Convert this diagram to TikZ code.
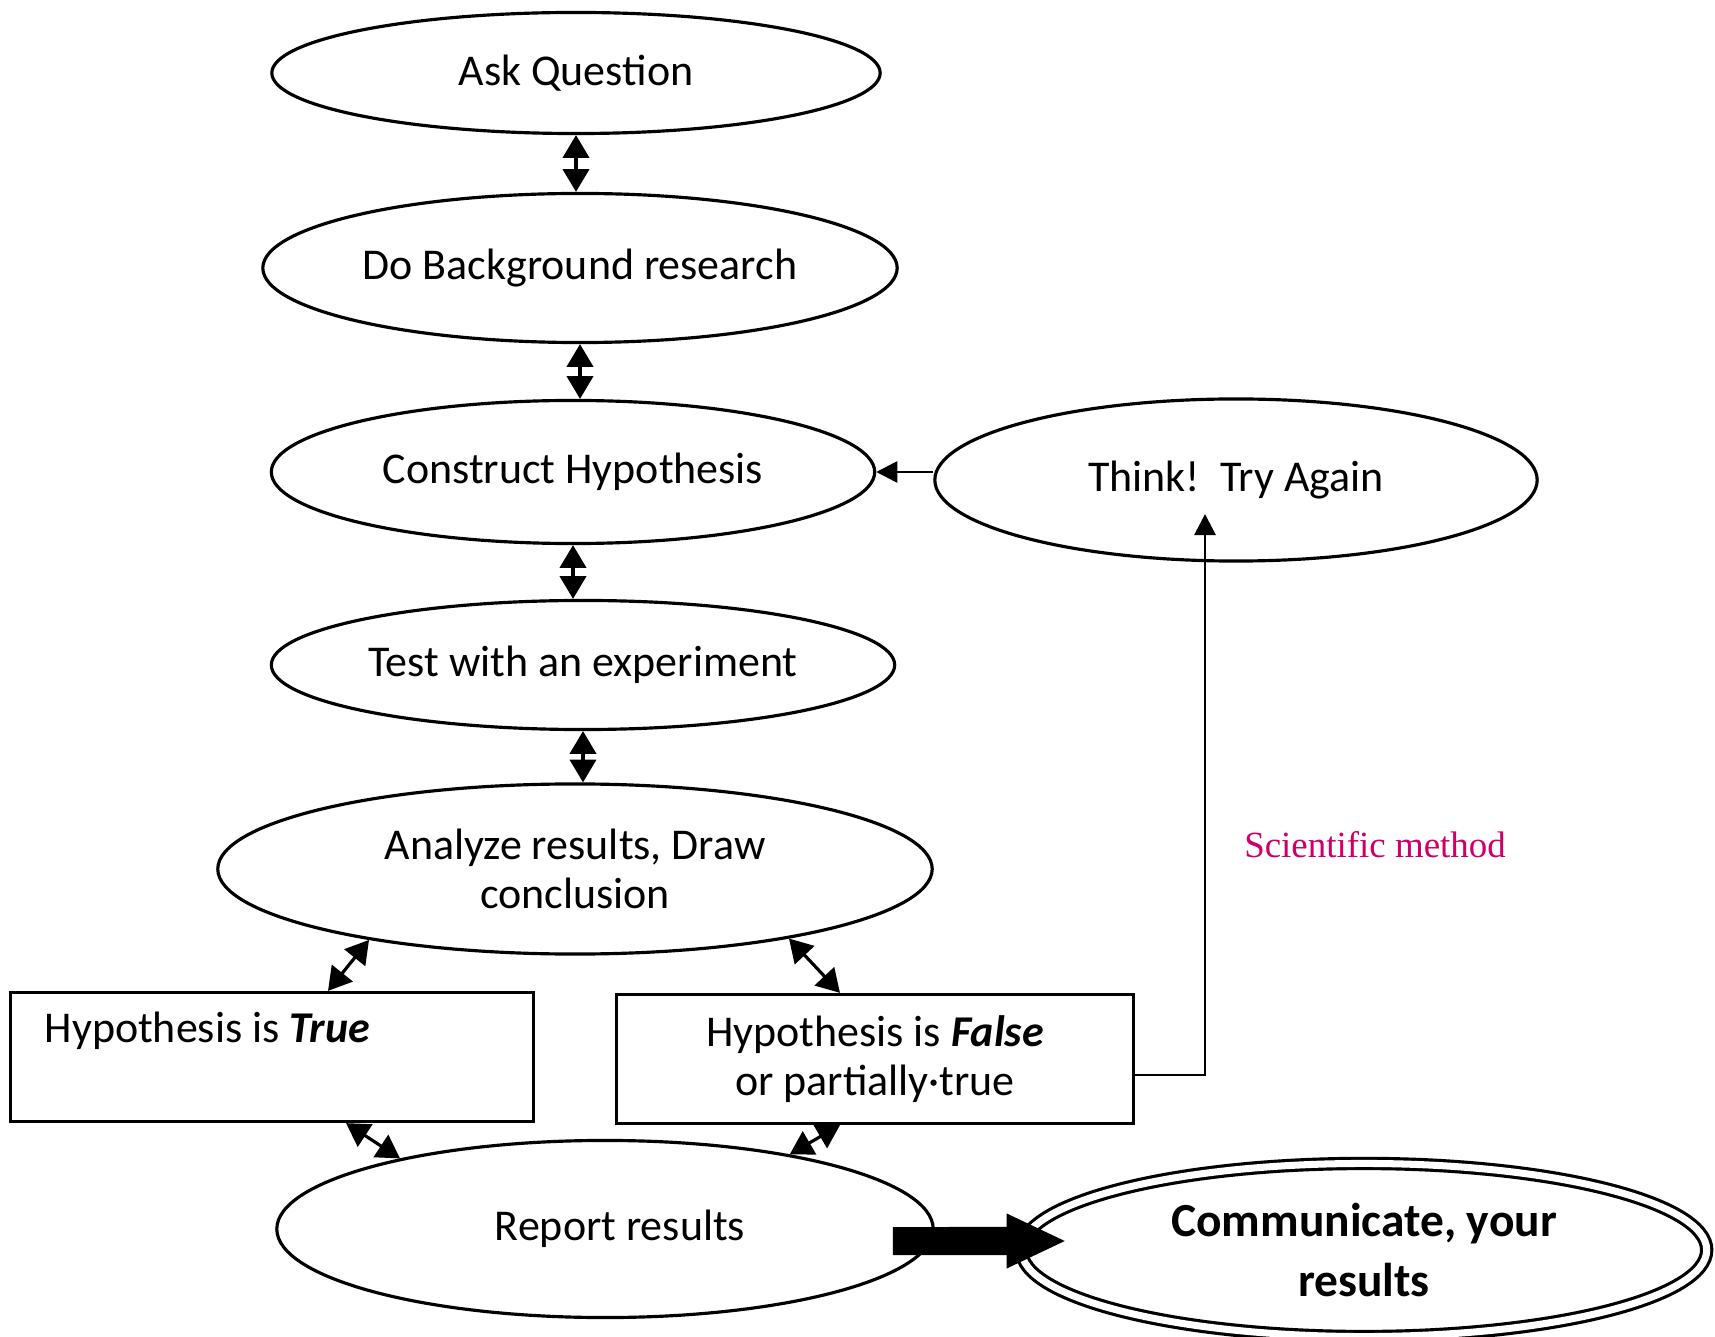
\documentclass[tikz,border=0pt]{standalone}
\usepackage{fontspec}
\setmainfont{Carlito}
\newfontfamily\serifname{Liberation Serif}
\usetikzlibrary{positioning,arrows.meta,shapes.geometric}

\definecolor{sciPink}{RGB}{204,0,102}

\tikzset{
  oval/.style={draw, ellipse, line width=0.9pt, inner sep=0pt, align=center,
    font=\fontsize{12.5}{14}\selectfont},
  box/.style={draw, rectangle, line width=0.9pt, inner sep=0pt, align=center,
    font=\fontsize{12.5}{14}\selectfont},
  dbl/.style={{Triangle[width=7.5pt,length=6.5pt]}-{Triangle[width=7.5pt,length=6.5pt]}, line width=0.9pt},
  sgl/.style={-{Triangle[width=6pt,length=6pt]}, line width=0.8pt},
  fat/.style={-{Triangle[width=0.5cm,length=0.6cm]}, line width=0.28cm},
}

\begin{document}
\begin{tikzpicture}[x=0.01cm, y=-0.01cm]
\useasboundingbox (0,0) rectangle (1715,1337);

%% 楕円
\node[oval, minimum width=6.08cm, minimum height=1.21cm] (ask) at (576,73) {Ask Question};
\node[oval, minimum width=6.34cm, minimum height=1.49cm] (bg) at (580,268) {Do Background research};
\node[oval, minimum width=6.03cm, minimum height=1.43cm] (hyp) at (573,472) {Construct Hypothesis};
\node[oval, minimum width=6.02cm, minimum height=1.62cm] (again) at (1236,480) {Think!\ \ Try Again};
\node[oval, minimum width=6.23cm, minimum height=1.29cm] (test) at (583,665) {Test with an experiment};
\node[oval, minimum width=7.14cm, minimum height=1.70cm] (analyze) at (575,869) {Analyze results, Draw\\conclusion};
\node[oval, minimum width=6.56cm, minimum height=1.77cm] (report) at (605,1229) {\hspace*{0.3cm}Report results};
\node[oval, double, double distance=2pt, minimum width=6.85cm, minimum height=1.73cm,
  font=\bfseries\fontsize{13.5}{17}\selectfont] (comm) at (1364,1250) {Communicate, your\\results};

%% 箱
\node[box, minimum width=5.22cm, minimum height=1.29cm] (true) at (272,1057) {};
\node[anchor=west, inner sep=0pt, font=\fontsize{12.5}{14}\selectfont] (truetxt) at (44,1031) {Hypothesis is \textbf{\textit{True}}};
\node[box, minimum width=5.17cm, minimum height=1.29cm] (false) at (875,1059) {Hypothesis is \textbf{\textit{False}}\\or partially·true};

%% 題
\node[font=\serifname\fontsize{10.5}{12}\selectfont, text=sciPink] (title) at (1375,845) {Scientific method};

%% 矢印
\draw[dbl] (ask.south) -- (ask.south |- bg.north);
\draw[dbl] (bg.south) -- (bg.south |- hyp.north);
\draw[dbl] (hyp.south) -- (hyp.south |- test.north);
\draw[dbl] (test.south) -- (test.south |- analyze.north);

\draw[dbl] (analyze.199) -- ([xshift=0.56cm]true.north);
\draw[dbl] (analyze.342) -- ([xshift=-0.35cm]false.north);
\draw[dbl] ([xshift=0.74cm]true.south) -- (report.161);
\draw[dbl] ([xshift=-0.35cm]false.south) -- (report.22);

\draw[sgl] (hyp.east -| again.west) -- (hyp.east);
\coordinate (backtip) at (1205,514);
\draw[sgl] ([yshift=-0.16cm]false.east) -| (backtip);

\draw[fat] ([shift={(-0.42cm,-0.12cm)}]report.east) -- ([shift={(0.47cm,0.09cm)}]comm.west);

\end{tikzpicture}
\end{document}
